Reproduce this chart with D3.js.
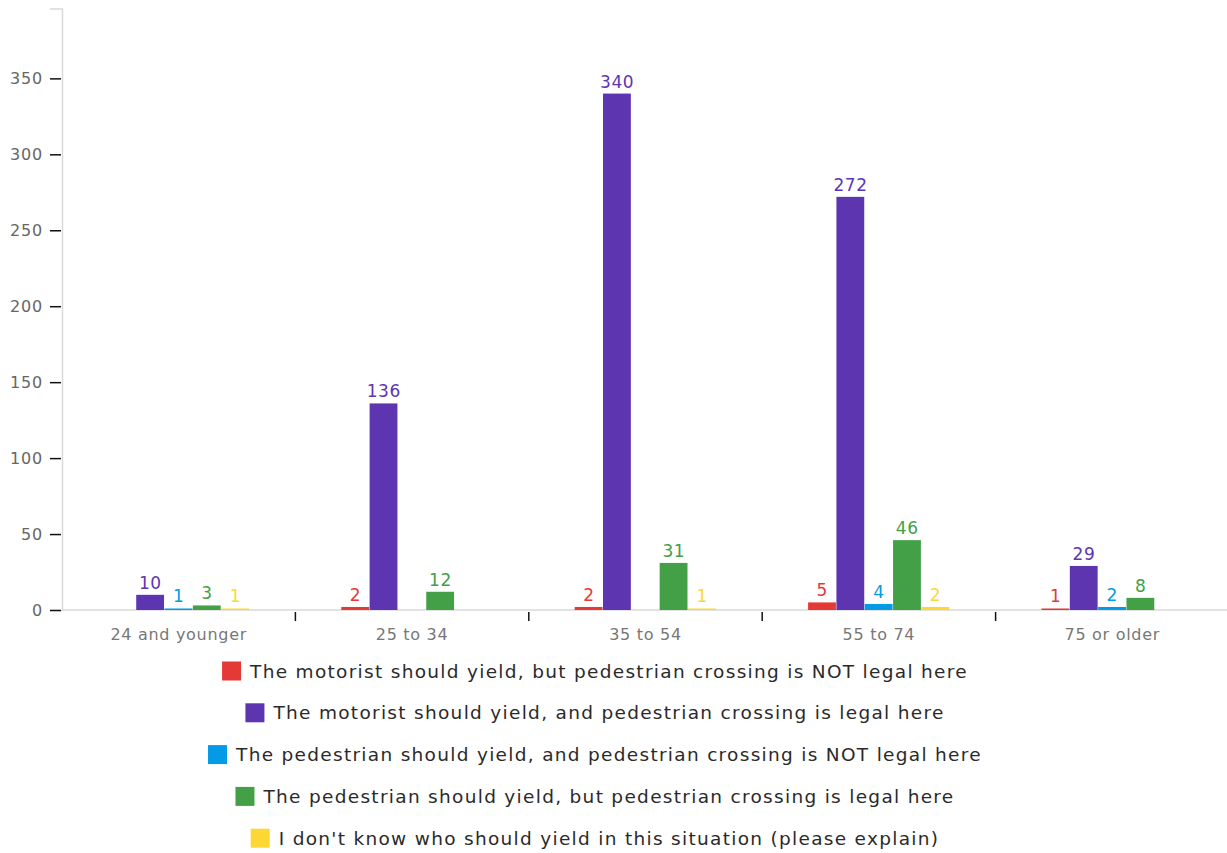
<!DOCTYPE html>
<html>
<head>
<meta charset="utf-8">
<script src="https://cdn.jsdelivr.net/npm/d3@7"></script>
<style>
  html, body { margin: 0; padding: 0; background: #fff; }
  svg { display: block; font-family: "DejaVu Sans", sans-serif; }
</style>
</head>
<body>
<svg id="chart" width="1227" height="853"></svg>
<script>
// Age groups along the x axis
const categories = ["24 and younger", "25 to 34", "35 to 54", "55 to 74", "75 or older"];

// Answer options (one bar per option within each age group)
const seriesNames = [
  "The motorist should yield, but pedestrian crossing is NOT legal here",
  "The motorist should yield, and pedestrian crossing is legal here",
  "The pedestrian should yield, and pedestrian crossing is NOT legal here",
  "The pedestrian should yield, but pedestrian crossing is legal here",
  "I don't know who should yield in this situation (please explain)"
];
const seriesColors = ["#e53935", "#5e35b1", "#039be5", "#43a047", "#fdd835"];

// Response counts per answer, in category order
const motoristNotLegal   = [0, 2, 2, 5, 1];
const motoristLegal      = [10, 136, 340, 272, 29];
const pedestrianNotLegal = [1, 0, 0, 4, 2];
const pedestrianLegal    = [3, 12, 31, 46, 8];
const dontKnow           = [1, 0, 1, 2, 0];

const yTicks = [0, 50, 100, 150, 200, 250, 300, 350];

const seriesValues = [motoristNotLegal, motoristLegal, pedestrianNotLegal, pedestrianLegal, dontKnow];

const svg = d3.select("#chart");
const plotLeft = 62, plotRight = 1229, plotTop = 8.5, plotBottom = 610;

const x0 = d3.scaleBand().domain(categories).range([plotLeft, plotRight]).padding(0);
const x1 = d3.scaleBand().domain(d3.range(seriesNames.length))
  .range([0, x0.bandwidth()]).paddingInner(0).paddingOuter(1.62);
const y = d3.scaleLinear().domain([0, 396]).range([plotBottom, plotTop]);

// Y axis
const yAxis = svg.append("g").attr("transform", `translate(${plotLeft},0)`)
  .call(d3.axisLeft(y).tickValues(yTicks).tickSize(12).tickPadding(7));
yAxis.select(".domain").attr("stroke", "#d9d9d9").attr("stroke-width", 1.5);
yAxis.selectAll(".tick line").attr("stroke", "#111").attr("stroke-width", 1.5).attr("x2", -12).attr("x1", -1);
yAxis.selectAll(".tick text").attr("fill", "#666").attr("font-size", 16)
  .attr("letter-spacing", 0.8).attr("font-family", "DejaVu Sans");

// X baseline and group separators
svg.append("line").attr("x1", plotLeft).attr("x2", 1227).attr("y1", y(0)).attr("y2", y(0))
  .attr("stroke", "#d9d9d9").attr("stroke-width", 1.5);
const seps = categories.slice(1).map(c => x0(c));
svg.append("g").selectAll("line").data(seps).join("line")
  .attr("x1", d => d).attr("x2", d => d)
  .attr("y1", plotBottom + 2).attr("y2", plotBottom + 11)
  .attr("stroke", "#111").attr("stroke-width", 1.5);
svg.append("g").selectAll("text").data(categories).join("text")
  .attr("x", d => x0(d) + x0.bandwidth() / 2)
  .attr("y", 640)
  .attr("text-anchor", "middle")
  .attr("fill", "#777").attr("font-size", 16).attr("letter-spacing", 0.7)
  .text(d => d);

// Bars and value labels
const groups = svg.append("g").selectAll("g").data(categories).join("g")
  .attr("transform", d => `translate(${x0(d)},0)`);
groups.each(function(cat, ci) {
  const g = d3.select(this);
  const data = seriesValues.map((vals, si) => ({ si, v: vals[ci] }));
  g.selectAll("rect").data(data).join("rect")
    .attr("x", d => x1(d.si))
    .attr("width", x1.bandwidth() - 0.5)
    .attr("y", d => y(d.v))
    .attr("height", d => y(0) - y(d.v))
    .attr("fill", d => seriesColors[d.si]);
  g.selectAll("text").data(data.filter(d => d.v > 0)).join("text")
    .attr("x", d => x1(d.si) + x1.bandwidth() / 2)
    .attr("y", d => y(d.v) - 6)
    .attr("text-anchor", "middle")
    .attr("fill", d => seriesColors[d.si])
    .attr("font-size", 17).attr("letter-spacing", 0.6)
    .text(d => d.v);
});

// Legend: one centred row per answer
const legendCenter = 595;
seriesNames.forEach((name, i) => {
  const rowY = 671 + i * 41.8;
  const g = svg.append("g");
  const t = g.append("text").attr("y", rowY + 6.5).attr("fill", "#2a2a2a")
    .attr("font-size", 18.5).attr("letter-spacing", 1.3).text(name);
  const w = t.node().getComputedTextLength();
  const total = 19 + 9 + w;
  const start = legendCenter - total / 2;
  g.append("rect").attr("x", start).attr("y", rowY - 9.5).attr("width", 19).attr("height", 19)
    .attr("fill", seriesColors[i]);
  t.attr("x", start + 28);
});
</script>
</body>
</html>
